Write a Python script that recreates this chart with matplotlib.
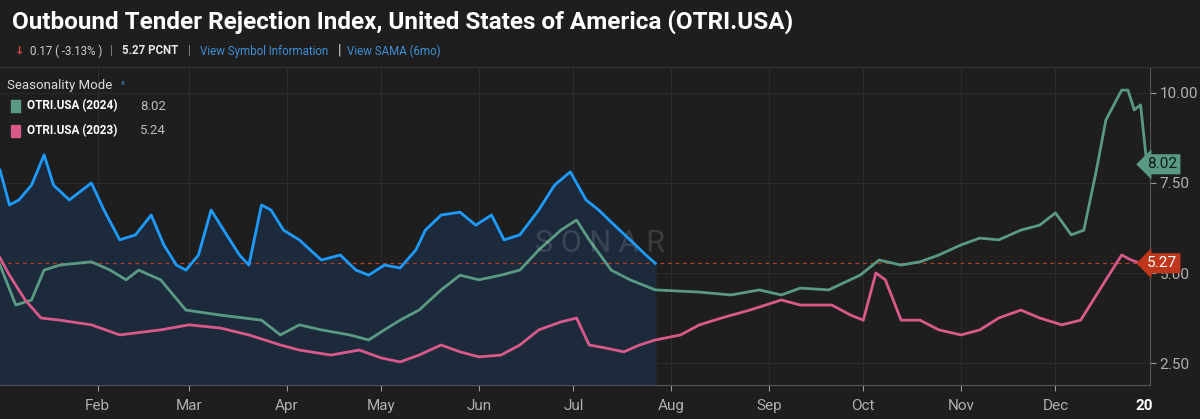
import matplotlib
matplotlib.use("Agg")
import matplotlib.pyplot as plt
import numpy as np

blue_days = [0,3,6,10,14,17,22,29,33,38,43,48,52,56,59,63,67,71,76,79,83,86,90,95,102,108,113,117,122,127,132,135,140,146,151,156,160,165,171,176,181,186,190,195,200,205,208]
blue_vals = [7.86,6.89,7.03,7.44,8.28,7.44,7.03,7.5,6.75,5.92,6.06,6.61,5.78,5.22,5.08,5.5,6.75,6.19,5.5,5.22,6.89,6.75,6.19,5.92,5.36,5.5,5.08,4.94,5.22,5.14,5.64,6.19,6.61,6.69,6.33,6.61,5.92,6.06,6.75,7.44,7.81,7.03,6.75,6.33,5.92,5.5,5.27]

green_days = [0,5,10,14,19,29,35,40,44,51,59,70,83,89,95,102,111,117,122,127,133,140,146,152,159,165,171,178,183,187,194,200,208,222,232,241,248,254,263,273,279,286,292,298,305,311,317,324,330,335,340,344,348,351,356,358,360,362,364]
green_vals = [5.22,4.11,4.25,5.08,5.22,5.31,5.08,4.81,5.08,4.81,3.97,3.83,3.69,3.28,3.56,3.42,3.28,3.14,3.42,3.69,3.97,4.53,4.94,4.81,4.94,5.08,5.64,6.19,6.47,5.92,5.08,4.81,4.53,4.47,4.39,4.53,4.39,4.58,4.53,4.94,5.36,5.22,5.31,5.5,5.78,5.97,5.92,6.19,6.33,6.67,6.06,6.19,7.86,9.25,10.08,10.08,9.53,9.67,8.02]

pink_days = [0,3,8,13,19,29,38,51,60,70,79,89,95,105,114,121,127,133,140,146,152,159,165,171,178,183,187,192,198,203,208,216,222,229,238,248,254,264,270,274,278,281,286,292,298,305,311,317,324,330,337,343,346,351,356,359,362]
pink_vals = [5.42,4.94,4.25,3.75,3.69,3.56,3.28,3.42,3.56,3.47,3.28,3.0,2.86,2.72,2.86,2.64,2.53,2.72,3.0,2.81,2.67,2.72,3.0,3.42,3.64,3.75,3.0,2.92,2.81,3.0,3.14,3.28,3.56,3.75,3.97,4.25,4.11,4.11,3.83,3.69,5.0,4.81,3.69,3.69,3.42,3.28,3.42,3.75,3.97,3.75,3.56,3.69,4.11,4.81,5.5,5.36,5.27]

month_days = [31,60,91,121,152,182,213,244,274,305,335]
month_labels = ["Feb","Mar","Apr","May","Jun","Jul","Aug","Sep","Oct","Nov","Dec"]

BG = "#1e1e1f"
BLUE = "#1e9bff"; GREEN = "#5a9a84"; PINK = "#d95a8a"
FONT = ["Roboto", "DejaVu Sans"]
plt.rcParams['font.family'] = FONT

W, H = 1200, 419
fig = plt.figure(figsize=(12, 4.19), dpi=100, facecolor=BG)
ax = fig.add_axes([0, 1-385/H, 1150/W, (385-68)/H], facecolor=BG)
ax.set_xlim(0, 365)
ax.set_ylim(10 - (385-93)/36, 10 + (93-68)/36)

for d in month_days + [366]:
    ax.axvline(d, color="#2c2c2e", lw=0.8, zorder=0)
for yv in [2.5, 5, 7.5, 10]:
    ax.axhline(yv, color="#2a2a2c", lw=0.8, zorder=0)

ax.fill_between(blue_days, blue_vals, ax.get_ylim()[0], color="#1c2a3c", zorder=1)
ax.plot(green_days, green_vals, color=GREEN, lw=2, zorder=3)
ax.plot(pink_days, pink_vals, color=PINK, lw=2, zorder=3)
ax.plot(blue_days, blue_vals, color=BLUE, lw=2, zorder=4)
ax.axhline(5.27, color="#b0402a", lw=0.9, ls=(0, (3, 3)), zorder=2)

ax.text(600/1150, 1-(243-68)/317, "S O N A R", transform=ax.transAxes, fontsize=22, color="#ffffff",
        alpha=0.13, ha="center", va="center")

ax.set_xticks(month_days)
ax.set_xticklabels(month_labels)
ax.tick_params(axis="x", colors="#9a9a9a", labelsize=11, length=4, labelcolor="#b0b0b0", pad=6)
ax.yaxis.tick_right()
ax.set_yticks([2.5, 5, 7.5, 10])
ax.set_yticklabels(["2.50", "5.00", "7.50", "10.00"])
ax.tick_params(axis="y", colors="#9a9a9a", labelsize=11, length=4, labelcolor="#b0b0b0", pad=3)
for s in ["top", "left"]:
    ax.spines[s].set_visible(False)
ax.spines["right"].set_color("#555")
ax.spines["bottom"].set_color("#555")
ax.text(366, -0.045, "20", transform=ax.get_xaxis_transform(), ha="right", va="top",
        color="white", fontsize=11, fontweight="bold")

for val, fc, tc in [(8.02, GREEN, "#0a1a14"), (5.27, "#c0361c", "white")]:
    ax.annotate(f"{val:.2f}", xy=(1.0, val), xycoords=("axes fraction", "data"),
                xytext=(-2, 0), textcoords="offset points", va="center", ha="left",
                fontsize=11, color=tc, annotation_clip=False, zorder=6,
                bbox=dict(boxstyle="larrow,pad=0.2", fc=fc, ec="none"))

def px(x, y):
    return x / W, 1 - y / H

fig.text(*px(12, 22), "Outbound Tender Rejection Index, United States of America (OTRI.USA)",
         color="white", fontsize=17.5, fontweight="bold", va="center")
yl = 51
fig.text(*px(15, yl), "\u2193", color="#e0443a", fontsize=8, va="center", fontweight="bold",
         family="DejaVu Sans")
fig.text(*px(30, yl), "0.17 ( -3.13% )", color="#cfcfcf", fontsize=8.3, va="center")
fig.text(*px(110, yl), "|", color="#888", fontsize=9, va="center")
fig.text(*px(122, yl), "5.27 PCNT", color="#e6e6e6", fontsize=8.3, va="center", fontweight="bold")
fig.text(*px(188, yl), "|", color="#888", fontsize=9, va="center")
fig.text(*px(200, yl), "View Symbol Information", color="#3f8fd6", fontsize=8.3, va="center")
fig.text(*px(338, yl), "|", color="#ddd", fontsize=10, va="center")
fig.text(*px(347, yl), "View SAMA (6mo)", color="#3f8fd6", fontsize=8.3, va="center")
fig.add_artist(plt.Line2D([0, 1], [1-67/H, 1-67/H], transform=fig.transFigure, color="#2e2e30", lw=1))

fig.text(*px(7, 85), "Seasonality Mode", color="#dddddd", fontsize=9.5, va="center")
fig.text(*px(121, 86), "^", color="#3f8fd6", fontsize=7, va="center")
for yy, col, lab, v in [(106, GREEN, "OTRI.USA (2024)", "8.02"), (131, PINK, "OTRI.USA (2023)", "5.24")]:
    x0, y0 = px(11, yy + 6)
    fig.patches.append(plt.Rectangle((x0, y0), 9/W, 12/H, transform=fig.transFigure, color=col))
    fig.text(*px(27, yy), lab, color="white", fontsize=8.5, fontweight="bold", va="center")
    fig.text(*px(140, yy), v, color="#bbbbbb", fontsize=9.5, va="center")

fig.savefig("out.png", dpi=100, facecolor=BG)
